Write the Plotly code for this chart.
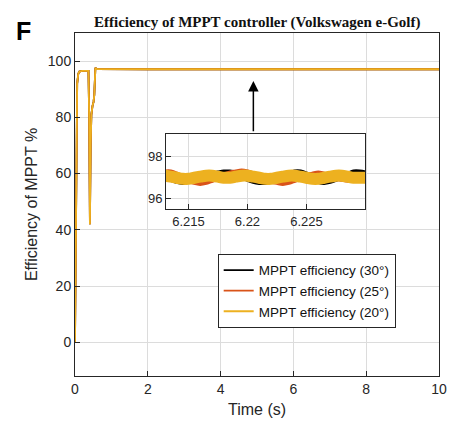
import plotly.graph_objects as go

# ---- data ----
series_names = ["MPPT efficiency (30°)", "MPPT efficiency (25°)", "MPPT efficiency (20°)"]
series_colors = ["#000000", "#D95319", "#EDB120"]

t_main = [0, 0.02, 0.04, 0.06, 0.09, 0.12, 0.2, 0.3, 0.37, 0.39, 0.41, 0.43, 0.45,
          0.48, 0.51, 0.53, 0.56, 0.6, 1, 2, 3, 4, 5, 6, 7, 8, 9, 10]
eff_30 = [0, 45, 80, 92, 95.5, 96.3, 96.5, 96.5, 96.5, 80, 42, 70, 81,
          84, 85.5, 88, 97.6, 97.2, 97.1, 97.1, 97.1, 97.1, 97.1, 97.1, 97.1, 97.1, 97.1, 97.1]
eff_25 = [0, 45, 80, 92, 95.5, 96.3, 96.5, 96.5, 96.5, 80, 42, 70, 81,
          84, 85.5, 88, 97.6, 97.2, 97.1, 97.1, 97.1, 97.1, 97.1, 97.1, 97.1, 97.1, 97.1, 97.1]
eff_20 = [0, 45, 80, 92, 95.5, 96.3, 96.5, 96.5, 96.5, 80, 42, 70, 81,
          84, 85.5, 88, 97.6, 97.2, 97.1, 97.1, 97.1, 97.1, 97.1, 97.1, 97.1, 97.1, 97.1, 97.1]

inset_t = [6.2130, 6.2135, 6.2140, 6.2145, 6.2150, 6.2155, 6.2160, 6.2165, 6.2170,
           6.2175, 6.2180, 6.2185, 6.2190, 6.2195, 6.2200, 6.2205, 6.2210, 6.2215,
           6.2220, 6.2225, 6.2230, 6.2235, 6.2240, 6.2245, 6.2250, 6.2255, 6.2260,
           6.2265, 6.2270, 6.2275, 6.2280, 6.2285, 6.2290, 6.2295, 6.2300]
inset_30 = [97.1, 96.95, 96.85, 96.8, 96.85, 96.9, 97.0, 97.1, 97.15,
            97.2, 97.25, 97.25, 97.2, 97.1, 96.95, 96.85, 96.8, 96.8,
            96.85, 96.95, 97.1, 97.15, 97.25, 97.25, 97.15, 97.0, 96.85,
            96.8, 96.85, 96.95, 97.1, 97.15, 97.25, 97.25, 97.2]
inset_25 = [97.25, 97.25, 97.15, 97.0, 96.9, 96.8, 96.75, 96.8, 96.9,
            97.0, 97.1, 97.2, 97.25, 97.3, 97.25, 97.15, 97.0, 96.9,
            96.85, 96.8, 96.75, 96.8, 96.9, 97.0, 97.1, 97.15, 97.2,
            97.15, 97.1, 97.0, 96.95, 96.9, 96.95, 97.0, 97.05]
inset_20 = [97.1, 97.05, 97.0, 96.95, 96.95, 97.0, 97.05, 97.1, 97.1,
            97.05, 97.0, 97.0, 97.05, 97.1, 97.1, 97.05, 97.0, 96.95,
            96.95, 97.0, 97.05, 97.1, 97.1, 97.05, 97.0, 96.95, 96.95,
            97.0, 97.05, 97.1, 97.1, 97.05, 97.0, 97.0, 97.0]

x_ticks = [0, 2, 4, 6, 8, 10]
y_ticks = [0, 20, 40, 60, 80, 100]
inset_x_ticks = [6.215, 6.22, 6.225]
inset_x_labels = ["6.215", "6.22", "6.225"]
inset_y_ticks = [96, 98]

main_series = [eff_30, eff_25, eff_20]
inset_series = [inset_30, inset_25, inset_20]
inset_widths = [6, 6, 12]

FONT = "Liberation Sans, Arial, sans-serif"
AX = "#262626"
GRID = "#dcdcdc"

fig = go.Figure()
for name, col, ys in zip(series_names, series_colors, main_series):
    fig.add_trace(go.Scatter(x=t_main, y=ys, mode="lines", name=name,
                             line=dict(color=col, width=1.8), xaxis="x", yaxis="y"))
for col, ys, w in zip(series_colors, inset_series, inset_widths):
    fig.add_trace(go.Scatter(x=inset_t, y=ys, mode="lines", showlegend=False,
                             line=dict(color=col, width=w, shape="spline"),
                             xaxis="x2", yaxis="y2"))

axis_common = dict(showgrid=True, gridcolor=GRID, gridwidth=1, showline=True,
                   linecolor=AX, linewidth=1, mirror=True, ticks="inside",
                   ticklen=5, tickcolor=AX, zeroline=False)

fig.update_layout(
    width=456, height=425,
    margin=dict(l=75, r=9, t=33, b=49),
    paper_bgcolor="white", plot_bgcolor="white",
    font=dict(family=FONT, color=AX),
    xaxis=dict(range=[0, 10], tickvals=x_ticks, tickfont=dict(size=14),
               title=dict(text="Time (s)", font=dict(size=16), standoff=8),
               **axis_common),
    yaxis=dict(range=[-12, 110], tickvals=y_ticks, tickfont=dict(size=14),
               title=dict(text="Efficiency of MPPT %", font=dict(size=16), standoff=6),
               **axis_common),
    xaxis2=dict(domain=[0.25, 0.798], anchor="y2", range=[6.2131, 6.2300],
                tickvals=inset_x_ticks, ticktext=inset_x_labels,
                tickfont=dict(size=13), **axis_common),
    yaxis2=dict(domain=[0.487, 0.7055], anchor="x2", range=[95.5, 99.1],
                tickvals=inset_y_ticks, tickfont=dict(size=13), **axis_common),
    legend=dict(x=0.392, y=0.356, xanchor="left", yanchor="top",
                bgcolor="white", bordercolor=AX, borderwidth=1,
                font=dict(size=13.5, color="#111111"), tracegroupgap=0),
    showlegend=True,
)

fig.add_annotation(x=4.9, y=92.9, ax=4.9, ay=74.5, xref="x", yref="y",
                   axref="x", ayref="y", text="", showarrow=True,
                   arrowhead=2, arrowsize=1.4, arrowwidth=1.5, arrowcolor="#000000")
# paper coords are relative to the plot area (x 75..447 px, y 33..376 px)
fig.add_annotation(x=(261 - 75) / 372, y=(376 - 22) / 343, xref="paper", yref="paper",
                   xanchor="center", yanchor="middle", showarrow=False,
                   text="<b>Efficiency of MPPT controller (Volkswagen e-Golf)</b>",
                   font=dict(family="Liberation Serif, Times New Roman, serif",
                             size=15, color="#111111"))
fig.add_annotation(x=(22 - 75) / 372, y=(376 - 31) / 343, xref="paper", yref="paper",
                   xanchor="center", yanchor="middle", showarrow=False,
                   text="<b>F</b>", font=dict(family=FONT, size=25, color="#000000"))

fig.write_html("out.html")
